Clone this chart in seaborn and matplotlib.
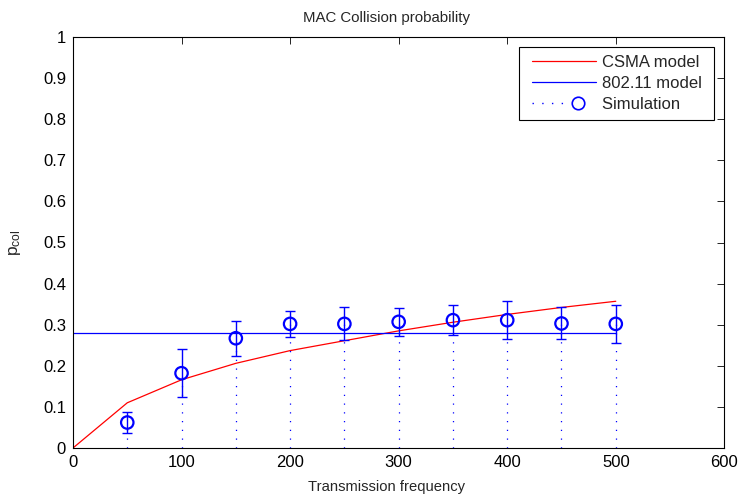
import matplotlib
matplotlib.use("Agg")
import matplotlib.pyplot as plt
from matplotlib.lines import Line2D
from matplotlib.legend_handler import HandlerBase
import numpy as np
import pandas as pd
import seaborn as sns

# Transmission frequency values
freq = [50, 100, 150, 200, 250, 300, 350, 400, 450, 500]

# CSMA analytical model (starts at the origin)
csma_x = [0, 50, 100, 150, 200, 250, 300, 350, 400, 450, 500]
csma_y = [0.0, 0.110, 0.166, 0.206, 0.237, 0.261, 0.285, 0.306, 0.325, 0.342, 0.357]

# 802.11 model: constant collision probability
ieee_x = [0, 500]
ieee_y = [0.28, 0.28]

# Simulation mean and error half-width
sim_mean = [0.062, 0.182, 0.267, 0.302, 0.302, 0.307, 0.311, 0.311, 0.303, 0.302]
sim_err = [0.026, 0.058, 0.042, 0.031, 0.040, 0.034, 0.036, 0.047, 0.039, 0.047]

legend_labels = ["CSMA model", "802.11 model", "Simulation"]

sns.set_theme(style="white")
plt.rcParams["font.family"] = ["Liberation Sans", "DejaVu Sans"]
plt.rcParams["mathtext.fontset"] = "custom"
plt.rcParams["mathtext.rm"] = "Liberation Sans"
plt.rcParams["mathtext.it"] = "Liberation Sans"

BLUE = "#0000ff"
RED = "#ff0000"
STEM_DOTS = (0, (1, 6))


class IndentedHandler(HandlerBase):
    """Legend sample drawn with a small indent from the left of the handle box.

    kind == "line": a plain solid line in the given colour.
    kind == "stem": a short dotted stem followed by an open circle.
    """

    def __init__(self, kind, color, indent=0.33):
        super().__init__()
        self.kind = kind
        self.color = color
        self.indent = indent

    def create_artists(self, legend, orig_handle, xdescent, ydescent,
                       width, height, fontsize, trans):
        y = height / 2 - ydescent
        x0 = -xdescent + self.indent * fontsize
        span = width - self.indent * fontsize
        artists = []
        if self.kind == "line":
            artists.append(Line2D([x0, x0 + span], [y, y], color=self.color, lw=0.9))
        else:
            artists.append(Line2D([x0, x0 + 0.55 * span], [y, y], color=self.color,
                                  lw=1.0, ls=STEM_DOTS))
            artists.append(Line2D([x0 + 0.71 * span], [y], ls="none", marker="o",
                                  markersize=9, markerfacecolor="none",
                                  markeredgecolor=self.color, markeredgewidth=1.2))
        for a in artists:
            a.set_transform(trans)
        return artists


fig = plt.figure(figsize=(7.41, 5.0), dpi=100)
ax = fig.add_axes([0.0985, 0.104, 0.879, 0.822])

csma_df = pd.DataFrame({"x": csma_x, "y": csma_y})
ieee_df = pd.DataFrame({"x": ieee_x, "y": ieee_y})
sim_df = pd.DataFrame({"x": freq, "y": sim_mean, "err": sim_err})

sns.lineplot(data=csma_df, x="x", y="y", ax=ax, color=RED, lw=0.9)
sns.lineplot(data=ieee_df, x="x", y="y", ax=ax, color=BLUE, lw=0.9)

# dotted stems from the axis up to each simulated value
ax.vlines(sim_df["x"], 0, sim_df["y"], colors=BLUE, linestyles=STEM_DOTS, lw=0.9)
ax.errorbar(sim_df["x"], sim_df["y"], yerr=sim_df["err"], fmt="none",
            ecolor=BLUE, elinewidth=1.0, capsize=3.5, capthick=1.0)
sns.scatterplot(data=sim_df, x="x", y="y", ax=ax, marker="o", s=80,
                facecolor="none", edgecolor=BLUE, linewidth=1.6, zorder=5)

ax.set_xlim(0, 600)
ax.set_ylim(0, 1)
ax.set_xticks(np.arange(0, 601, 100))
ax.set_yticks(np.arange(0, 1.01, 0.1))
ax.set_yticklabels(["0", "0.1", "0.2", "0.3", "0.4", "0.5", "0.6", "0.7",
                    "0.8", "0.9", "1"])
ax.tick_params(direction="in", length=5, width=0.6, top=True, right=True,
               labelsize=12, colors="black", pad=5)
for s in ax.spines.values():
    s.set_visible(True)
    s.set_color("black")
    s.set_linewidth(0.8)

ax.set_title("MAC Collision probability", fontsize=10.8, pad=11, x=0.481)
ax.set_xlabel("Transmission frequency", fontsize=10.6)
ax.xaxis.set_label_coords(0.481, -0.078)
ax.set_ylabel(r"p$_{\mathrm{col}}$", fontsize=12.5, labelpad=14)

handles = [
    Line2D([], [], color=RED),
    Line2D([], [], color=BLUE),
    Line2D([], [], color=BLUE, ls=STEM_DOTS, marker="o"),
]
handler_map = {
    handles[0]: IndentedHandler("line", RED),
    handles[1]: IndentedHandler("line", BLUE),
    handles[2]: IndentedHandler("stem", BLUE),
}
leg = ax.legend(handles, [lab + " " for lab in legend_labels],
                handler_map=handler_map,
                loc="upper right", bbox_to_anchor=(1.0, 1.0),
                fontsize=12, frameon=True, fancybox=False, edgecolor="black",
                framealpha=1, handlelength=4.17, handletextpad=0.35,
                borderpad=0.45, labelspacing=0.38, borderaxespad=0.6)
leg.get_frame().set_linewidth(0.8)

fig.savefig("out.png", dpi=100)
